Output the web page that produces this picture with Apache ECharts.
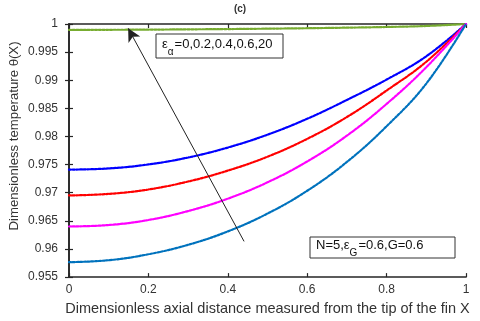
<!DOCTYPE html>
<html>
<head>
<meta charset="utf-8">
<script src="https://cdn.jsdelivr.net/npm/echarts@6/dist/echarts.min.js"></script>
<style>html,body{margin:0;padding:0;background:#fff;}#c{width:480px;height:321px;}</style>
</head>
<body>
<div id="c"></div>
<script>
var xs = [0, 0.1, 0.2, 0.3, 0.4, 0.5, 0.6, 0.7, 0.8, 0.9, 1.0];
var green   = [0.99894, 0.99897, 0.99900, 0.99905, 0.99910, 0.99917, 0.99925, 0.99935, 0.99947, 0.99965, 1.0];
var blue    = [0.97411, 0.97432, 0.97503, 0.97626, 0.97803, 0.98032, 0.98315, 0.98650, 0.99012, 0.99426, 1.0];
var red     = [0.96952, 0.96979, 0.97058, 0.97199, 0.97393, 0.97640, 0.97958, 0.98346, 0.98817, 0.99329, 1.0];
var magenta = [0.96400, 0.96426, 0.96515, 0.96674, 0.96894, 0.97185, 0.97556, 0.98015, 0.98579, 0.99232, 1.0];
var cyan    = [0.95765, 0.95800, 0.95906, 0.96074, 0.96312, 0.96629, 0.97035, 0.97547, 0.98182, 0.98941, 1.0];
var arrowFrom = [0.441, 0.96135];
var arrowTo = [0.149, 0.99924];

function pairs(v){ return xs.map(function(x,i){ return [x, v[i]]; }); }
var FONT = 'Liberation Sans, Arial, sans-serif';
function mk(name, data, color){
  return {
    name: name, type: 'line', data: pairs(data), smooth: 0.4,
    showSymbol: false, symbol: 'none',
    lineStyle: { color: color, width: 2.2, type: [2.2, 1.5], cap: 'round' },
    z: 3
  };
}
var chart = echarts.init(document.getElementById('c'), null, {renderer: 'canvas'});
var axisLine = { show: true, lineStyle: { color: '#262626', width: 1.6 } };
var tickS = { show: true, inside: true, length: 4, lineStyle: { color: '#262626', width: 1.2 } };
var series = [
  mk('green', green, '#77ac30'),
  mk('blue', blue, '#0000ff'),
  mk('red', red, '#ff0000'),
  mk('magenta', magenta, '#ff00ff'),
  mk('cyan', cyan, '#0072bd')
];
series.push({
  type: 'line', data: [], silent: true,
  markLine: {
    silent: true, symbol: ['none', 'arrow'], symbolSize: [10, 13],
    label: { show: false },
    lineStyle: { color: '#222', width: 1, type: 'solid' },
    data: [[{ coord: arrowFrom }, { coord: arrowTo }]]
  }
});
var richN = { fontFamily: FONT, fontSize: 13, fill: '#111', lineHeight: 19, verticalAlign: 'top' };
var richS = { fontFamily: FONT, fontSize: 10, fill: '#111', lineHeight: 19, verticalAlign: 'bottom', padding: [0, 1, 0, 0] };
chart.setOption({
  animation: false,
  backgroundColor: '#fff',
  title: { text: '(c)', left: 'center', top: -1, textStyle: { fontFamily: FONT, fontSize: 10, fontWeight: 'bold', color: '#333' } },
  grid: { left: 69, right: 14, top: 24, bottom: 42 },
  xAxis: [{
    type: 'value', min: 0, max: 1, interval: 0.2,
    name: 'Dimensionless axial distance measured from the tip of the fin X',
    nameLocation: 'middle', nameGap: 19,
    nameTextStyle: { fontFamily: FONT, fontSize: 14.5, color: '#333' },
    axisLine: axisLine, axisTick: tickS, splitLine: { show: false },
    axisLabel: { fontFamily: FONT, fontSize: 12, color: '#333', margin: 7 }
  }, {
    type: 'value', position: 'top', min: 0, max: 1, interval: 0.2,
    axisLine: axisLine, axisTick: tickS, splitLine: { show: false }, axisLabel: { show: false }
  }],
  yAxis: [{
    type: 'value', min: 0.955, max: 1, interval: 0.005,
    axisLine: axisLine, axisTick: tickS, splitLine: { show: false },
    axisLabel: { fontFamily: FONT, fontSize: 12, color: '#333', margin: 11,
      formatter: function(v){ return String(+v.toFixed(3)); } }
  }, {
    type: 'value', position: 'right', min: 0.955, max: 1, interval: 0.005,
    axisLine: axisLine, axisTick: tickS, splitLine: { show: false }, axisLabel: { show: false }
  }],
  series: series,
  graphic: [
    { type: 'text', x: 14, y: 136, rotation: Math.PI / 2, z: 11, style: {
      text: 'Dimensionless temperature \u03b8(X)', fontFamily: FONT, fontSize: 13.2, fill: '#333',
      align: 'center', verticalAlign: 'middle' } },
    { type: 'rect', shape: { x: 156, y: 34, width: 127, height: 24 }, style: { fill: '#fff', stroke: '#333', lineWidth: 1 }, z: 10 },
    { type: 'text', x: 162, y: 38, z: 11, style: {
      text: '{n|\u03b5}{s|\u03b1}{n|=0,0.2,0.4,0.6,20}', rich: { n: richN, s: richS } } },
    { type: 'rect', shape: { x: 310, y: 237, width: 145, height: 21 }, style: { fill: '#fff', stroke: '#333', lineWidth: 1 }, z: 10 },
    { type: 'text', x: 316, y: 239, z: 11, style: {
      text: '{n|N=5,\u03b5}{s|G}{n|=0.6,G=0.6}', rich: { n: richN, s: richS } } }
  ]
});
</script>
</body>
</html>
